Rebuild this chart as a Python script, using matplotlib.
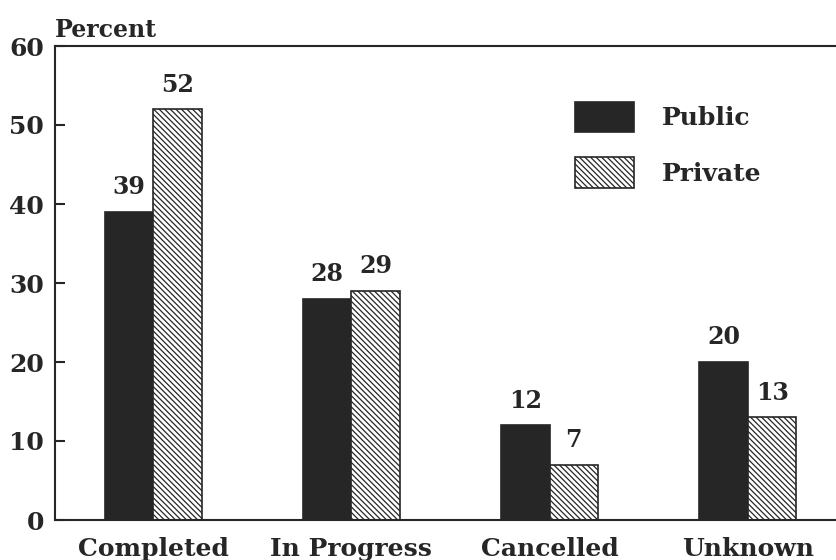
import matplotlib
matplotlib.use("Agg")
import matplotlib.pyplot as plt
import numpy as np

categories = ["Completed", "In Progress", "Cancelled", "Unknown"]
public = [39, 28, 12, 20]
private = [52, 29, 7, 13]

INK = "#262626"
plt.rcParams["font.family"] = ["DejaVu Serif"]
plt.rcParams["font.weight"] = "bold"
plt.rcParams["hatch.linewidth"] = 0.9
plt.rcParams["hatch.color"] = INK

fig = plt.figure(figsize=(8.37, 5.6), dpi=100)
ax = fig.add_axes([55 / 837, 1 - 520 / 560, 1 - 55 / 837, (520 - 46) / 560])

x = np.arange(len(categories))
w = 0.245
b1 = ax.bar(x - w / 2, public, w, color=INK, edgecolor=INK, linewidth=1.2, label="Public")
b2 = ax.bar(x + w / 2, private, w, color="white", edgecolor=INK, linewidth=1.2,
            hatch="\\\\\\\\\\\\", label="Private")

for bars, vals in [(b1, public), (b2, private)]:
    for r, v in zip(bars, vals):
        ax.text(r.get_x() + r.get_width() / 2, v + 1.6, str(v), ha="center", va="bottom",
                fontsize=17, fontweight="bold", color=INK)

ax.set_xlim(-0.495, 3.45)
ax.set_ylim(0, 60)
ax.set_yticks(range(0, 61, 10))
ax.set_xticks(x)
ax.set_xticklabels(categories)
ax.tick_params(axis="y", direction="in", length=7, width=1.5, pad=8, labelsize=18,
               colors=INK)
ax.tick_params(axis="x", length=0, pad=12, labelsize=18, colors=INK)
for lab in ax.get_xticklabels() + ax.get_yticklabels():
    lab.set_fontweight("bold")

ax.spines["right"].set_visible(False)
for s in ["left", "top", "bottom"]:
    ax.spines[s].set_linewidth(1.5)
    ax.spines[s].set_color(INK)

fig.text(55 / 837, 1 - 37 / 560, "Percent", fontsize=17, fontweight="bold", color=INK,
         ha="left", va="baseline")

leg = ax.legend(loc="upper left", bbox_to_anchor=(0.652, 0.904), frameon=False,
                fontsize=18, handlelength=2.35, handleheight=1.5,
                labelspacing=1.0, handletextpad=1.15, borderaxespad=0)
for t in leg.get_texts():
    t.set_color(INK)
    t.set_fontweight("bold")

fig.savefig("out.png", dpi=100)
